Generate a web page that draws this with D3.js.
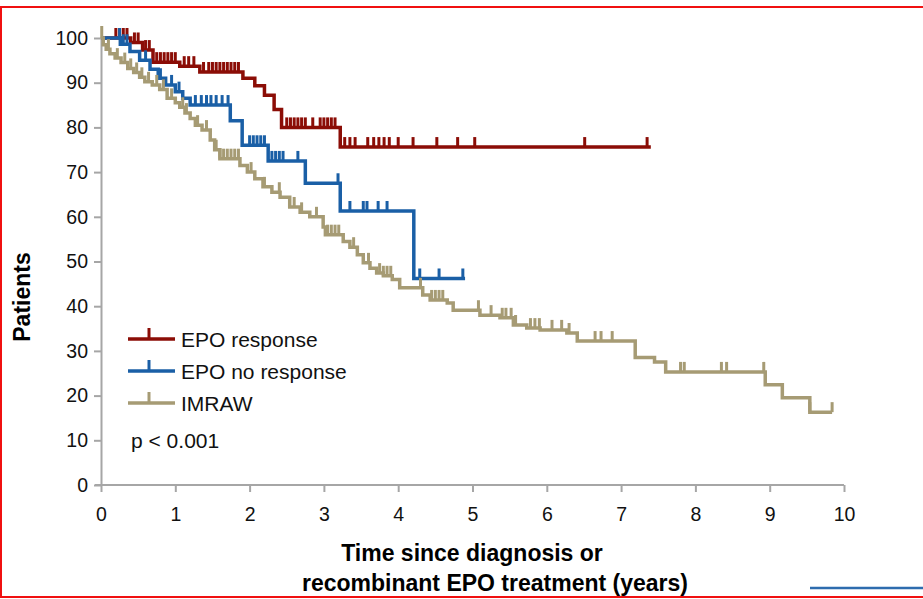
<!DOCTYPE html>
<html>
<head>
<meta charset="utf-8">
<script src="https://cdn.jsdelivr.net/npm/d3@7"></script>
<style>
  body { margin: 0; background: #fff; }
  svg { display: block; font-family: "Liberation Sans", Arial, sans-serif; }
  .axis path, .axis line { stroke: #a6a6a6; stroke-width: 2; }
  .axis text { font-size: 19.5px; fill: #111; }
</style>
</head>
<body>
<div id="chart"></div>
<script>
// step points [years, % patients]
var responseSteps = [[0,100],[0.4,99],[0.56,97.3],[0.7,94.6],[1.06,93.7],[1.33,92.4],[1.91,91],
  [2.07,89.3],[2.2,87.2],[2.33,84],[2.43,80],[3.22,75.6]];
var responseEnd = 7.4;
var responseCensor = [0.2,0.25,0.3,0.35,0.45,0.5,0.6,0.65,0.75,0.8,0.85,0.9,0.95,1.0,1.12,1.18,1.25,
  1.38,1.45,1.5,1.55,1.6,1.65,1.7,1.75,1.8,1.85,2.5,2.55,2.6,2.65,2.7,2.75,2.85,2.95,3.0,3.05,3.1,3.15,
  3.28,3.35,3.42,3.59,3.67,3.74,3.81,3.88,4.0,4.2,4.52,4.8,5.03,6.51,7.35];

var noResponseSteps = [[0,100],[0.26,98.6],[0.39,97],[0.52,95],[0.66,93],[0.77,91],[0.87,89.5],
  [1.0,88],[1.1,86.5],[1.2,85],[1.74,81.5],[1.9,76],[2.25,72.5],[2.75,67.5],[3.22,61.3],[4.21,46.2]];
var noResponseEnd = 4.9;
var noResponseCensor = [0.25,0.3,0.35,0.6,0.8,0.95,1.05,1.27,1.35,1.42,1.48,1.55,1.63,1.71,2.0,2.05,
  2.1,2.15,2.2,2.3,2.35,2.4,2.45,2.65,3.19,3.35,3.53,3.58,3.73,3.85,4.29,4.55,4.87];

var imrawSteps = [[0,100],[0.03,98.5],[0.07,97.5],[0.12,96.5],[0.19,95.5],[0.27,94.5],[0.36,93.2],
  [0.44,92.3],[0.52,91.2],[0.59,90.2],[0.69,89.5],[0.79,88.5],[0.89,86.5],[1.0,85.5],[1.06,84.5],
  [1.13,83.2],[1.2,82],[1.27,80.5],[1.36,79.4],[1.47,77.2],[1.53,75],[1.6,73],[1.87,71.5],[1.97,70],
  [2.07,68.5],[2.18,66.7],[2.3,65.5],[2.41,64.4],[2.54,62.2],[2.68,61],[2.81,60],[2.99,57.7],[3.02,56],
  [3.26,54.5],[3.35,53.2],[3.45,51.5],[3.53,49.7],[3.62,48.5],[3.71,47.4],[3.8,46.8],[3.92,46],
  [4.02,44.1],[4.33,42.5],[4.43,41.4],[4.66,40.7],[4.74,39.1],[5.1,38],[5.37,37.4],[5.55,35.8],
  [5.73,35.1],[5.91,34.7],[6.27,34],[6.41,32.2],[7.19,28.5],[7.45,27.5],[7.6,25.3],[8.94,22.4],
  [9.17,19.5],[9.54,16.3]];
var imrawEnd = 9.84;
var imrawCensor = [0.01,0.1,0.22,0.32,0.4,0.48,0.55,0.64,0.75,0.84,0.95,1.1,1.15,1.3,1.42,1.55,1.6,
  1.65,1.7,1.75,1.8,1.85,2.02,2.2,2.4,2.6,2.7,2.9,3.05,3.1,3.15,3.2,3.4,3.6,3.75,3.8,3.85,3.9,4.3,
  4.45,4.5,4.55,4.6,5.08,5.25,5.4,5.45,5.52,5.58,5.78,5.84,5.9,6.07,6.2,6.3,6.65,6.73,6.88,7.8,7.85,
  8.35,8.42,8.92,9.54,9.84];

var seriesNames = ["EPO response", "EPO no response", "IMRAW"];
var seriesColors = ["#8b0d06", "#1a5fa6", "#a69b74"];
var xTicks = [0,1,2,3,4,5,6,7,8,9,10];
var yTicks = [0,10,20,30,40,50,60,70,80,90,100];

var series = [
  {steps: responseSteps, end: responseEnd, censor: responseCensor},
  {steps: noResponseSteps, end: noResponseEnd, censor: noResponseCensor},
  {steps: imrawSteps, end: imrawEnd, censor: imrawCensor}
];

var W = 923, H = 599;
var margin = {top: 38, left: 101, right: 79, bottom: 114};
var width = W - margin.left - margin.right,
    height = H - margin.top - margin.bottom;

var svg = d3.select("#chart").append("svg")
    .attr("width", W)
    .attr("height", H);

// page frame
svg.append("rect")
    .attr("x", 1).attr("y", 7).attr("width", 1000).attr("height", 590)
    .attr("fill", "none").attr("stroke", "#f01010").attr("stroke-width", 2);
svg.append("line")
    .attr("x1", 810).attr("x2", 923).attr("y1", 588).attr("y2", 588)
    .attr("stroke", "#2e6cae").attr("stroke-width", 2.5);

var g = svg.append("g")
    .attr("transform", "translate(" + margin.left + "," + margin.top + ")");

var x = d3.scaleLinear().domain([0, 10]).range([0, width]),
    y = d3.scaleLinear().domain([0, 100]).range([height, 0]);

g.append("g")
    .attr("class", "axis")
    .attr("transform", "translate(0," + height + ")")
    .call(d3.axisBottom(x).tickValues(xTicks).tickSize(7).tickPadding(15).tickSizeOuter(0))
    .call(function(a) { a.select(".domain").attr("d", "M-6,0H" + width); });

g.append("g")
    .attr("class", "axis")
    .call(d3.axisLeft(y).tickValues(yTicks).tickSize(7).tickPadding(6).tickSizeOuter(0));

var line = d3.line()
    .curve(d3.curveStepAfter)
    .x(function(d) { return x(d[0]); })
    .y(function(d) { return y(d[1]); });

var bis = d3.bisector(function(d) { return d[0]; }).right;
function valueAt(steps, t) {
  var i = bis(steps, t) - 1;
  return steps[Math.max(i, 0)][1];
}

series.forEach(function(s, i) {
  var pts = s.steps.concat([[s.end, s.steps[s.steps.length - 1][1]]]);
  var c = g.append("g");
  c.append("path")
      .datum(pts)
      .attr("d", line)
      .attr("fill", "none")
      .attr("stroke", seriesColors[i])
      .attr("stroke-width", 3.5);
  c.selectAll(".tick-c")
      .data(s.censor)
      .enter().append("line")
      .attr("x1", function(d) { return x(d); })
      .attr("x2", function(d) { return x(d); })
      .attr("y1", function(d) { return y(valueAt(s.steps, d)); })
      .attr("y2", function(d) { return y(valueAt(s.steps, d)) - (d < 0.05 ? 12 : 10); })
      .attr("stroke", seriesColors[i])
      .attr("stroke-width", 3);
});

// legend
var legend = g.selectAll(".legend")
    .data(seriesNames)
    .enter().append("g")
    .attr("class", "legend")
    .attr("transform", function(d, i) { return "translate(27," + (301 + i * 32) + ")"; });

legend.append("line")
    .attr("x1", 0).attr("x2", 47).attr("y1", 0).attr("y2", 0)
    .attr("stroke", function(d, i) { return seriesColors[i]; })
    .attr("stroke-width", 3.5);
legend.append("line")
    .attr("x1", 21).attr("x2", 21).attr("y1", 0).attr("y2", -11)
    .attr("stroke", function(d, i) { return seriesColors[i]; })
    .attr("stroke-width", 3);
legend.append("text")
    .attr("x", 53)
    .attr("y", 1)
    .attr("dy", ".35em")
    .style("font-size", "21px")
    .style("fill", "#111")
    .text(function(d) { return d; });

g.append("text")
    .attr("x", 30)
    .attr("y", 403)
    .attr("dy", ".35em")
    .style("font-size", "21px")
    .style("fill", "#111")
    .text("p < 0.001");

// axis titles
svg.append("text")
    .attr("transform", "translate(30,297) rotate(-90)")
    .style("text-anchor", "middle")
    .style("font-weight", "bold")
    .style("font-size", "23px")
    .text("Patients");

svg.append("text")
    .attr("x", 472).attr("y", 561)
    .style("text-anchor", "middle")
    .style("font-weight", "bold")
    .style("font-size", "23px")
    .text("Time since diagnosis or");
svg.append("text")
    .attr("x", 495).attr("y", 591)
    .style("text-anchor", "middle")
    .style("font-weight", "bold")
    .style("font-size", "23px")
    .text("recombinant EPO treatment (years)");
</script>
</body>
</html>
